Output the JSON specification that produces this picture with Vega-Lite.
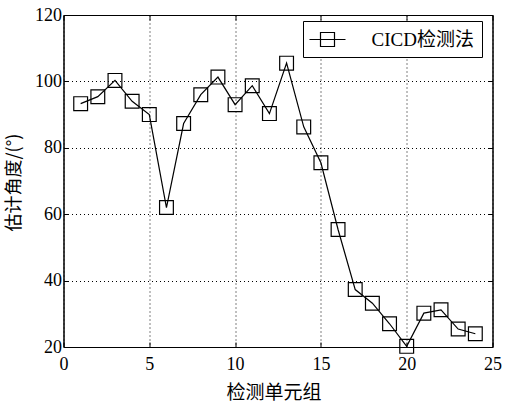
{
  "$schema": "https://vega.github.io/schema/vega-lite/v6.json",
  "width": 429,
  "height": 332,
  "autosize": {"type": "none"},
  "padding": {"left": 63.5, "top": 15, "right": 13.5, "bottom": 56},
  "background": "white",
  "config": {"view": {"stroke": "black", "strokeWidth": 1}, "font": "'Times New Roman', 'Liberation Serif', serif"},
  "data": {"values": [
    {"x": 1, "y": 93.3, "series": "CICD检测法"},
    {"x": 2, "y": 95.4, "series": "CICD检测法"},
    {"x": 3, "y": 100.3, "series": "CICD检测法"},
    {"x": 4, "y": 94, "series": "CICD检测法"},
    {"x": 5, "y": 90, "series": "CICD检测法"},
    {"x": 6, "y": 62, "series": "CICD检测法"},
    {"x": 7, "y": 87.3, "series": "CICD检测法"},
    {"x": 8, "y": 96, "series": "CICD检测法"},
    {"x": 9, "y": 101.3, "series": "CICD检测法"},
    {"x": 10, "y": 93, "series": "CICD检测法"},
    {"x": 11, "y": 98.7, "series": "CICD检测法"},
    {"x": 12, "y": 90.3, "series": "CICD检测法"},
    {"x": 13, "y": 105.5, "series": "CICD检测法"},
    {"x": 14, "y": 86.3, "series": "CICD检测法"},
    {"x": 15, "y": 75.5, "series": "CICD检测法"},
    {"x": 16, "y": 55.4, "series": "CICD检测法"},
    {"x": 17, "y": 37.3, "series": "CICD检测法"},
    {"x": 18, "y": 33.2, "series": "CICD检测法"},
    {"x": 19, "y": 27, "series": "CICD检测法"},
    {"x": 20, "y": 20.2, "series": "CICD检测法"},
    {"x": 21, "y": 30.2, "series": "CICD检测法"},
    {"x": 22, "y": 31.2, "series": "CICD检测法"},
    {"x": 23, "y": 25.4, "series": "CICD检测法"},
    {"x": 24, "y": 24, "series": "CICD检测法"}
  ]},
  "encoding": {
    "color": {
      "field": "series", "type": "nominal",
      "scale": {"range": ["black"]},
      "legend": {
        "title": null, "orient": "none", "legendX": 239.5, "legendY": 6,
        "strokeColor": "black", "fillColor": "white", "padding": 7.5,
        "symbolType": "M-1.8,0H1.8M-0.7,-0.7H0.7V0.7H-0.7Z",
        "symbolSize": 400, "symbolStrokeColor": "black", "symbolFillColor": "transparent",
        "symbolStrokeWidth": 1.2, "symbolOffset": 6, "labelOffset": 33,
        "labelFont": "'Times New Roman', 'Liberation Serif', 'Noto Sans CJK SC', serif", "labelFontSize": 19,
        "labelColor": "black", "cornerRadius": 0
      }
    }
  },
  "layer": [
    {
      "mark": {"type": "line", "strokeWidth": 1.2},
      "encoding": {
        "x": {"field": "x", "type": "quantitative", "scale": {"domain": [0, 25], "nice": false},
          "axis": {"orient": "bottom", "values": [0, 5, 10, 15, 20, 25], "grid": true, "gridDash": [1, 3], "gridColor": "black", "gridOpacity": 1, "gridWidth": 1,
            "tickSize": -5, "tickColor": "black", "domainColor": "black", "labelFont": "'Times New Roman', 'Liberation Serif', serif", "labelFontSize": 18, "labelColor": "black", "labelPadding": 13, "labelFlush": false,
            "title": "检测单元组", "titleFont": "Noto Sans CJK SC", "titleFontSize": 19, "titleFontWeight": "normal", "titleColor": "black", "titleX": 210, "titleY": 45, "titleBaseline": "middle"}},
        "y": {"field": "y", "type": "quantitative", "scale": {"domain": [20, 120], "nice": false, "zero": false},
          "axis": {"orient": "left", "values": [20, 40, 60, 80, 100, 120], "grid": true, "gridDash": [1, 3], "gridColor": "black", "gridOpacity": 1, "gridWidth": 1,
            "tickSize": -5, "tickColor": "black", "domainColor": "black", "labelFont": "'Times New Roman', 'Liberation Serif', serif", "labelFontSize": 18, "labelColor": "black", "labelPadding": 7, "labelFlush": false,
            "title": "估计角度/(°)", "titleFont": "Noto Sans CJK SC", "titleFontSize": 18, "titleFontWeight": "normal", "titleColor": "black", "titleX": -49, "titleY": 167, "titleAngle": 270, "titleBaseline": "middle"}}
      }
    },
    {
      "mark": {"type": "point", "shape": "square", "size": 190, "filled": false, "strokeWidth": 1.2, "opacity": 1},
      "encoding": {
        "x": {"field": "x", "type": "quantitative", "scale": {"domain": [0, 25], "nice": false},
          "axis": {"orient": "top", "values": [0, 5, 10, 15, 20, 25], "grid": false, "labels": false, "title": null, "tickSize": -5, "tickColor": "black", "domainColor": "black"}},
        "y": {"field": "y", "type": "quantitative", "scale": {"domain": [20, 120], "nice": false, "zero": false},
          "axis": {"orient": "right", "values": [20, 40, 60, 80, 100, 120], "grid": false, "labels": false, "title": null, "tickSize": -5, "tickColor": "black", "domainColor": "black"}}
      }
    }
  ],
  "resolve": {"axis": {"x": "independent", "y": "independent"}}
}
